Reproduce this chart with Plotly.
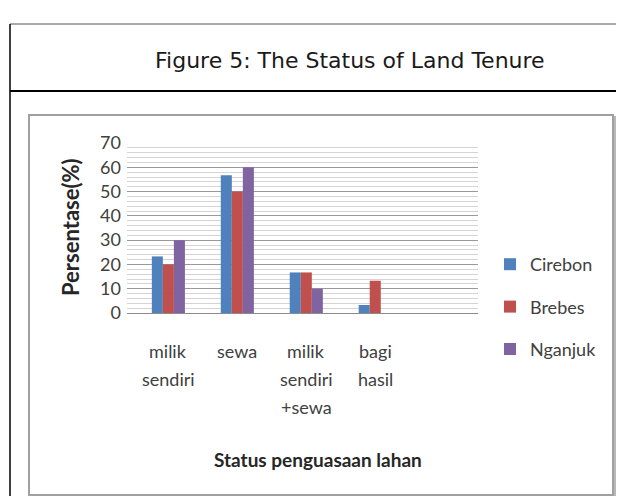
import plotly.graph_objects as go

categories = ["milik<br>sendiri", "sewa", "milik<br>sendiri<br>+sewa", "bagi<br>hasil"]
series_names = ["Cirebon", "Brebes", "Nganjuk"]
cirebon = [23.3, 56.7, 16.7, 3.3]
brebes = [20.0, 50.0, 16.7, 13.3]
nganjuk = [30.0, 60.0, 10.0, 0.0]
y_ticks = [0, 10, 20, 30, 40, 50, 60, 70]

colors = ["#4F81BD", "#C0504D", "#8064A2"]
OFF = 8                      # page body margin
W, H = 624 - OFF, 496 - OFF
PL, PR, PT, PB = 127, 478, 143, 313  # plot area in screen pixels


def px(x):
    return (x - PL) / (PR - PL)


def py(y):
    return (PB - y) / (PB - PT)


fig = go.Figure()
for name, vals, col in zip(series_names, [cirebon, brebes, nganjuk], colors):
    fig.add_trace(go.Bar(x=categories, y=vals, name=name, marker_color=col,
                         marker_line_width=0, legendgroup=name))

font_body = "Lato, 'Open Sans', sans-serif"

fig.update_layout(
    width=W, height=H,
    margin=dict(l=PL - OFF, r=W - (PR - OFF), t=PT - OFF, b=H - (PB - OFF), pad=0),
    paper_bgcolor="white", plot_bgcolor="white",
    barmode="group", bargap=0.52, bargroupgap=0,
    font=dict(family=font_body, color="#404040", size=16),
    showlegend=True,
    legend=dict(x=px(490), y=py(246), xanchor="left", yanchor="top",
                font=dict(size=18, color="#404040", family=font_body),
                traceorder="grouped", tracegroupgap=16,
                itemwidth=30, bgcolor="rgba(0,0,0,0)"),
    xaxis=dict(type="category", range=[-0.6, 4.49], showgrid=False,
               showline=False, zeroline=False, ticks="", showticklabels=False),
    yaxis=dict(range=[0, 70], tickvals=y_ticks, showgrid=True,
               gridcolor="#9a9a9a", gridwidth=1,
               minor=dict(dtick=2, showgrid=True, gridcolor="#d4d4d4", gridwidth=1),
               zeroline=True, zerolinecolor="#8a8a8a", zerolinewidth=1,
               showline=False, ticks="", ticklabelstandoff=5,
               tickfont=dict(size=18, color="#404040")),
)

# category labels (each line placed with Excel-like line spacing)
for cat in categories:
    for j, line in enumerate(cat.split("<br>")):
        fig.add_annotation(x=cat, y=0, xref="x", yref="y", text=line,
                           showarrow=False, xanchor="center", yanchor="middle",
                           yshift=-(38 + 28 * j),
                           font=dict(family=font_body, size=18, color="#404040"))

shapes = []
shapes.append(dict(type="rect", xref="paper", yref="paper",
                   x0=px(31), x1=px(615), y0=py(117), y1=py(497),
                   line=dict(color="#b8b8b8", width=2), fillcolor="rgba(0,0,0,0)", layer="below"))
shapes.append(dict(type="rect", xref="paper", yref="paper",
                   x0=px(29), x1=px(613), y0=py(115), y1=py(495),
                   line=dict(color="#a0a0a0", width=2), fillcolor="white", layer="below"))
shapes.append(dict(type="line", xref="paper", yref="paper",
                   x0=px(10), x1=px(640), y0=py(24), y1=py(24),
                   line=dict(color="#555555", width=1)))
shapes.append(dict(type="line", xref="paper", yref="paper",
                   x0=px(10), x1=px(640), y0=py(91), y1=py(91),
                   line=dict(color="#000000", width=2)))
shapes.append(dict(type="line", xref="paper", yref="paper",
                   x0=px(10), x1=px(10), y0=py(24), y1=py(500),
                   line=dict(color="#000000", width=1.5)))
fig.update_layout(shapes=shapes)

fig.add_annotation(text="Figure 5: The Status of Land Tenure", xref="paper", yref="paper",
                   x=px(350), y=py(60), xanchor="center", yanchor="middle", showarrow=False,
                   font=dict(family="'DejaVu Sans', sans-serif", size=22, color="#1a1a1a"))
fig.add_annotation(text="<b>Persentase(%)</b>", xref="paper", yref="paper",
                   x=px(70), y=py(227), xanchor="center", yanchor="middle", showarrow=False,
                   textangle=-90, font=dict(family=font_body, size=22, color="#262626"))
fig.add_annotation(text="<b>Status penguasaan lahan</b>", xref="paper", yref="paper",
                   x=px(318), y=py(459), xanchor="center", yanchor="middle", showarrow=False,
                   font=dict(family=font_body, size=19, color="#262626"))

fig.write_html("out.html")
